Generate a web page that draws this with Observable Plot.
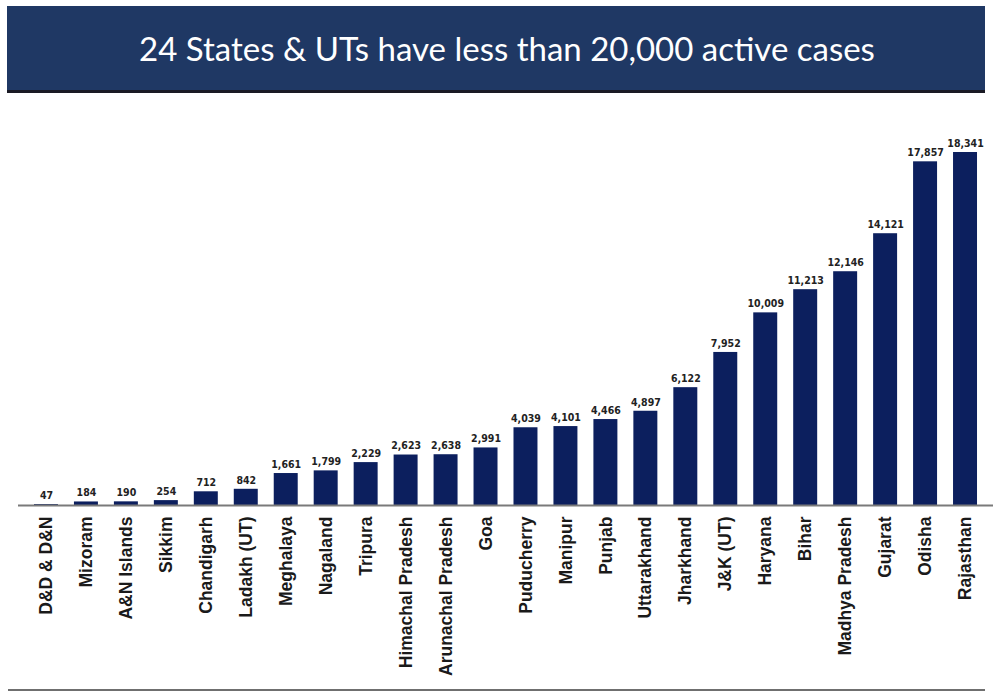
<!DOCTYPE html>
<html>
<head>
<meta charset="utf-8">
<script src="https://cdn.jsdelivr.net/npm/d3@7"></script>
<script src="https://cdn.jsdelivr.net/npm/@observablehq/plot@0.6"></script>
<style>
  html, body { margin: 0; padding: 0; background: #fff; }
  #banner {
    position: absolute; left: 7px; top: 6px; width: 956px; height: 84px; padding-left: 22px;
    background: #1f3864; border-bottom: 3px solid #1a1a24;
    color: #fff; font-family: Lato, "Open Sans", sans-serif; font-size: 33px;
    display: flex; align-items: center; justify-content: center; letter-spacing: 0px;
  }
  #chart { position: absolute; left: 0; top: 100px; }
  #bottomline { position: absolute; left: 8px; top: 689px; width: 977px; height: 0; border-top: 2px solid #6f6f6f; }
</style>
</head>
<body>
<div id="banner">24 States &amp; UTs have less than 20,000 active cases</div>
<div id="chart"></div>
<div id="bottomline"></div>
<script>
const states = ["D&D & D&N","Mizoram","A&N Islands","Sikkim","Chandigarh","Ladakh (UT)","Meghalaya","Nagaland","Tripura","Himachal Pradesh","Arunachal Pradesh","Goa","Puducherry","Manipur","Punjab","Uttarakhand","Jharkhand","J&K (UT)","Haryana","Bihar","Madhya Pradesh","Gujarat","Odisha","Rajasthan"];
const activeCases = [47,184,190,254,712,842,1661,1799,2229,2623,2638,2991,4039,4101,4466,4897,6122,7952,10009,11213,12146,14121,17857,18341];

const data = states.map((s, i) => ({state: s, value: activeCases[i]}));
const fmt = d3.format(",");

const chart = Plot.plot({
  width: 994,
  height: 585,
  marginLeft: 18,
  marginRight: 1,
  marginTop: 52,
  marginBottom: 180,
  style: {background: "transparent"},
  x: {domain: states, padding: 0.4, round: false, label: null},
  y: {domain: [0, 18341], axis: null},
  marks: [
    Plot.barY(data, {x: "state", y: "value", fill: "#0c1f5e"}),
    Plot.ruleY([0], {stroke: "#7a7a7a", strokeWidth: 2}),
    Plot.text(data, {x: "state", y: "value", text: d => fmt(d.value), dy: -9, textAnchor: "middle",
      fontFamily: "'Liberation Sans Narrow', 'DejaVu Sans Condensed', sans-serif", fontWeight: "bold", fontSize: 10.5, fill: "#222"}),
    Plot.axisX({tickSize: 0, tickPadding: 11, tickRotate: -90, fontSize: 17.5, fontWeight: "bold",
      fontFamily: "'Liberation Sans Narrow', 'Liberation Sans', sans-serif", fill: "#1a1a1a", label: null})
  ]
});
document.getElementById("chart").appendChild(chart);
</script>
</body>
</html>
